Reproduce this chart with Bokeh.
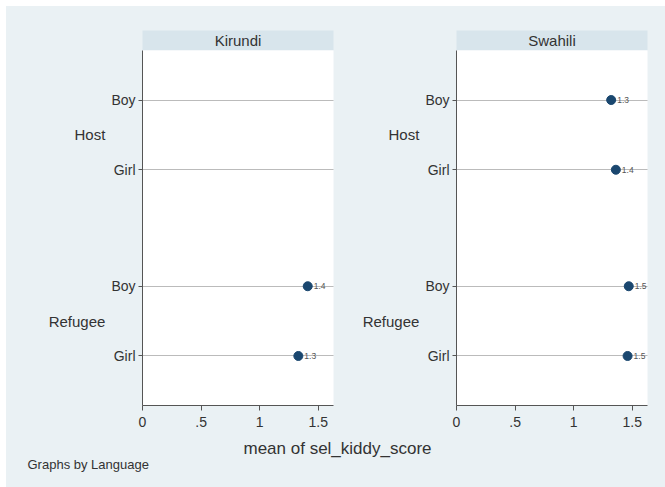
from bokeh.plotting import figure
from bokeh.models import FactorRange, Range1d, FixedTicker, Label, ColumnDataSource, Spacer
from bokeh.layouts import column, row
from bokeh.embed import file_html
from bokeh.resources import INLINE
from bokeh.core.properties import value

# ---- data ----
languages = ["Kirundi", "Swahili"]
groups = ["Host", "Host", "Refugee", "Refugee"]
genders = ["Boy", "Girl", "Boy", "Girl"]
kirundi_scores = [None, None, 1.41, 1.33]
swahili_scores = [1.32, 1.36, 1.47, 1.46]
x_ticks = [0, 0.5, 1, 1.5]
x_tick_labels = ["0", ".5", "1", "1.5"]
x_title = "mean of sel_kiddy_score"
note = "Graphs by Language"

# ---- style ----
FONT = "Liberation Sans"
BG = "#eaf1f4"
STRIP = "#d8e5ec"
NAVY = "#1a476f"
AX = "#555555"
TXT = "#333333"
BGSTYLE = {"background-color": BG}


def strip_fig(lang, width, bl, br):
    s = figure(width=width, height=44, x_range=Range1d(0, 1), y_range=Range1d(0, 1),
               output_backend="svg", toolbar_location=None,
               x_axis_location=None, y_axis_location=None,
               min_border_left=bl, min_border_right=br, min_border_top=24, min_border_bottom=0)
    s.background_fill_color = STRIP
    s.border_fill_color = BG
    s.outline_line_color = None
    s.xgrid.visible = False
    s.ygrid.visible = False
    s.add_layout(Label(x=0.5, y=0.5, text=lang, text_align="center", text_baseline="middle",
                       text_font=FONT, text_font_size="15px", text_color=TXT))
    return s


def panel_fig(scores, width, bl, br):
    factors = [(g, s) for g, s in zip(groups, genders)][::-1]
    yr = FactorRange(factors=factors, factor_padding=0, group_padding=0.67,
                     range_padding=0.21, range_padding_units="absolute")
    p = figure(width=width, height=383, x_range=Range1d(0, 1.63), y_range=yr,
               output_backend="svg", toolbar_location=None,
               min_border_left=bl, min_border_right=br, min_border_top=0, min_border_bottom=28)
    p.background_fill_color = "white"
    p.border_fill_color = BG
    p.outline_line_color = None
    p.xgrid.visible = False
    p.ygrid.grid_line_color = "#777777"
    p.ygrid.grid_line_dash = "1 1"
    p.ygrid.grid_line_width = 1

    xs, ys, labs = [], [], []
    for g, s, v in zip(groups, genders, scores):
        if v is None:
            continue
        xs.append(v)
        ys.append((g, s))
        labs.append(f"{v:.1f}")
    src = ColumnDataSource(dict(x=xs, y=ys, lab=labs))
    p.scatter("x", "y", source=src, size=9, fill_color=NAVY, line_color=NAVY)
    p.text("x", "y", text="lab", source=src, x_offset=6, text_baseline="middle",
           text_font=value(FONT), text_font_size="8.5px", text_color="#555555")

    xa = p.xaxis[0]
    xa.ticker = FixedTicker(ticks=x_ticks)
    xa.major_label_overrides = {t: l for t, l in zip(x_ticks, x_tick_labels)}
    xa.minor_tick_line_color = None
    xa.major_tick_out = 5
    xa.major_tick_in = 0
    xa.major_label_standoff = 6
    xa.axis_line_color = AX
    xa.major_tick_line_color = AX
    xa.major_label_text_font = FONT
    xa.major_label_text_font_size = "14px"
    xa.major_label_text_color = TXT

    ya = p.yaxis[0]
    ya.axis_line_color = AX
    ya.major_tick_line_color = AX
    ya.major_tick_out = 4
    ya.major_tick_in = 0
    ya.major_label_standoff = 3
    ya.major_label_text_font = FONT
    ya.major_label_text_font_size = "14px"
    ya.major_label_text_color = TXT
    ya.group_text_font = FONT
    ya.group_text_font_size = "15px"
    ya.group_text_font_style = "normal"
    ya.group_text_color = TXT
    ya.group_label_orientation = "horizontal"
    ya.separator_line_color = None
    return p


s1 = strip_fig(languages[0], 334, 136, 7)
p1 = panel_fig(kirundi_scores, 334, 136, 7)
s2 = strip_fig(languages[1], 325, 116, 18)
p2 = panel_fig(swahili_scores, 325, 116, 18)

foot = figure(width=659, height=54, x_range=Range1d(0, 659), y_range=Range1d(54, 0),
              output_backend="svg", toolbar_location=None,
              x_axis_location=None, y_axis_location=None,
              min_border_left=0, min_border_right=0, min_border_top=0, min_border_bottom=0)
foot.background_fill_color = BG
foot.border_fill_color = BG
foot.outline_line_color = None
foot.xgrid.visible = False
foot.ygrid.visible = False
foot.add_layout(Label(x=331, y=15, text=x_title, text_align="center", text_baseline="middle",
                      text_font=FONT, text_font_size="17px", text_color=TXT))
foot.add_layout(Label(x=21, y=31, text=note, text_align="left", text_baseline="middle",
                      text_font=FONT, text_font_size="13px", text_color=TXT))

main = column(
    row(column(s1, p1, styles=BGSTYLE), column(s2, p2, styles=BGSTYLE), styles=BGSTYLE),
    foot, styles=BGSTYLE)
layout = column(Spacer(width=665, height=6),
                row(Spacer(width=6, height=481), main))

open("out.html", "w").write(file_html(layout, INLINE))
